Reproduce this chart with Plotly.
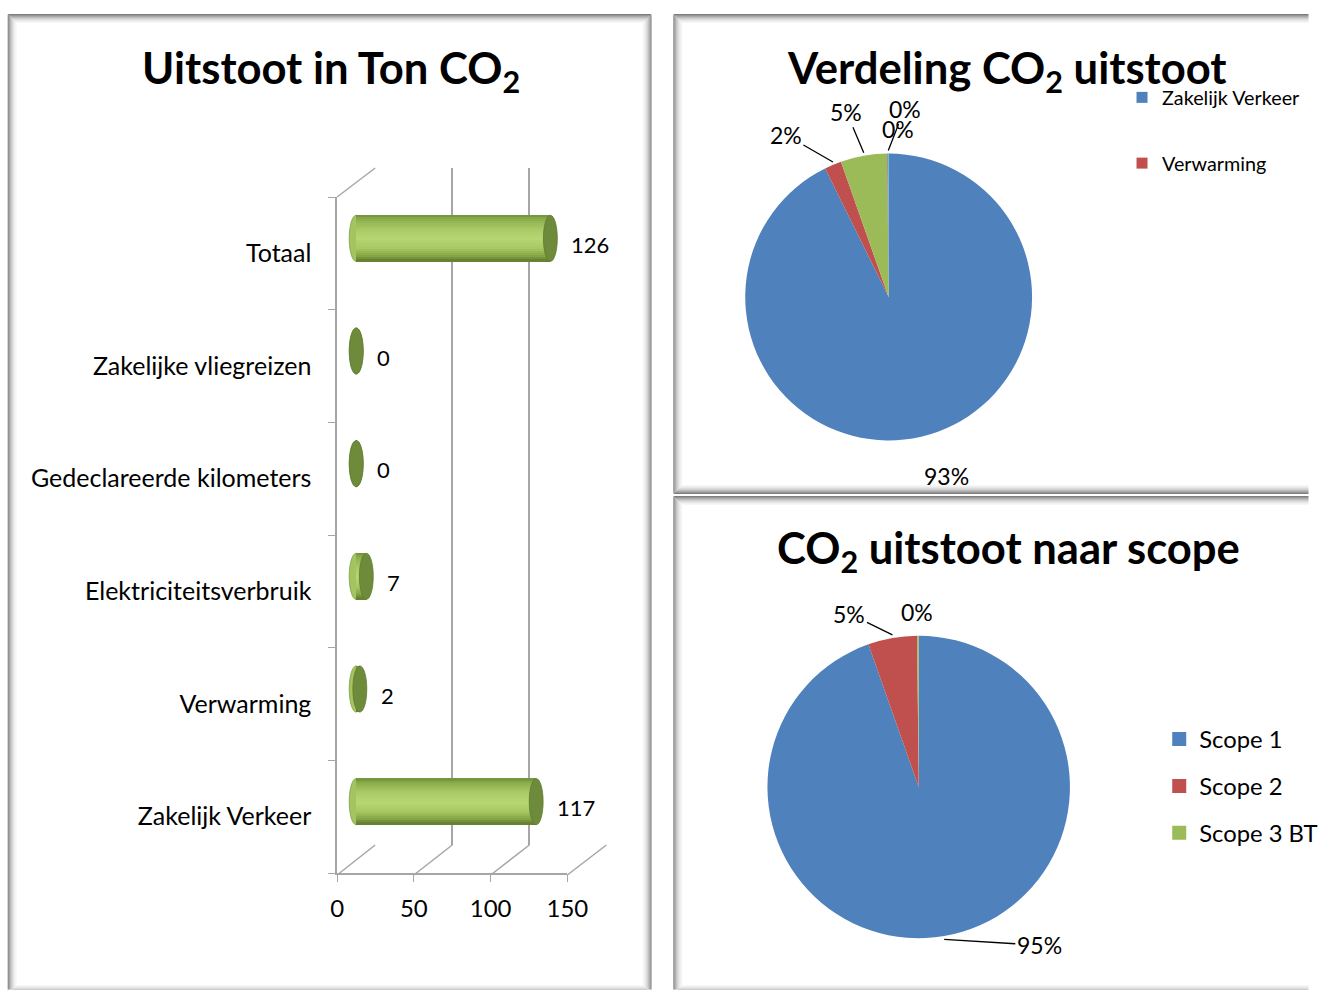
import math
import plotly.graph_objects as go

# ---------------- data ----------------
categories = ["Zakelijk Verkeer", "Verwarming", "Elektriciteitsverbruik",
              "Gedeclareerde kilometers", "Zakelijke vliegreizen", "Totaal"]
values = [116.8, 2.4, 6.6, 0.1, 0.1, 126.0]

pie_labels = categories[:5]
pie_values = values[:5]
pie_colors = ["#4F81BD", "#C0504D", "#9BBB59", "#8064A2", "#4BACC6"]
pie_legend_labels = ["Zakelijk Verkeer", "Verwarming"]

scope_labels = ["Scope 1", "Scope 2", "Scope 3 BT"]
scope_values = [119.2, 6.6, 0.2]
scope_colors = ["#4F81BD", "#C0504D", "#9BBB59"]

x_ticks = [0, 50, 100, 150]

# ---------------- helpers ----------------
W, H = 1330, 990
FONT = "Lato, 'Open Sans', sans-serif"
# horizontal calibration of the photographed page (photo px = SX * css px + OX)
SX, OX = 0.978, 7.2


def cx(p):
    return (p - OX) / SX


def X(p):
    return cx(p) / W


def Y(py):
    return 1 - py / H


def hex2rgb(h):
    h = h.lstrip("#")
    return [int(h[i:i + 2], 16) for i in (0, 2, 4)]


def shade_at(t, stops):
    for (t0, c0), (t1, c1) in zip(stops[:-1], stops[1:]):
        if t0 <= t <= t1:
            f = (t - t0) / (t1 - t0) if t1 > t0 else 0
            a, b = hex2rgb(c0), hex2rgb(c1)
            return "rgb({},{},{})".format(*[round(a[j] + (b[j] - a[j]) * f) for j in range(3)])
    return stops[-1][1]


fig = go.Figure()
GRID = "#a6a6a6"

# back wall (subplot x/y, drawn first so bars sit in front of its grid)
fig.add_trace(go.Scatter(x=[0], y=[0], mode="markers", marker=dict(opacity=0),
                         xaxis="x", yaxis="y", showlegend=False, hoverinfo="skip"))
# front axis carrier (category tick labels)
fig.add_trace(go.Scatter(x=[0] * len(categories), y=categories, mode="markers",
                         marker=dict(opacity=0), xaxis="x2", yaxis="y2",
                         showlegend=False, hoverinfo="skip"))

# ---------------- bar chart (cylinders drawn as shaded stripes) ----------------
BAR_W = 0.41
cyl_stops = [(0.0, "#6f8f36"), (0.08, "#8aab4b"), (0.3, "#a9ca66"), (0.52, "#b5d672"),
             (0.72, "#a6c762"), (0.88, "#86a647"), (1.0, "#5f7b2c")]
n = 22
sw = BAR_W / n
for k in range(n):
    col = shade_at((k + 0.5) / n, cyl_stops)
    top = BAR_W / 2 - k * sw
    fig.add_trace(go.Bar(
        x=values, y=categories, orientation="h", width=sw + 0.003,
        offset=top - sw - 0.0015, marker=dict(color=col, line=dict(width=0)),
        xaxis="x3", yaxis="y3", showlegend=False, hoverinfo="skip"))

shapes = []
annotations = []

cap_half = 4.5
for i, v in enumerate(values):
    shapes.append(dict(type="circle", xref="x3", yref="y3",
                       x0=-cap_half, x1=cap_half, y0=i - BAR_W / 2, y1=i + BAR_W / 2,
                       fillcolor="#a3c45f", line=dict(width=0.8, color="#7e9e45"),
                       layer="below"))
for i, v in enumerate(values):
    shapes.append(dict(type="circle", xref="x3", yref="y3",
                       x0=v - cap_half, x1=v + cap_half, y0=i - BAR_W / 2, y1=i + BAR_W / 2,
                       fillcolor="#6e8b3b", line=dict(width=0.8, color="#5e7a30"),
                       layer="above"))
    annotations.append(dict(x=v, y=categories[i], xref="x3", yref="y3",
                            text=f"{v:.0f}", showarrow=False, xanchor="left",
                            yanchor="middle", xshift=19, yshift=-6,
                            font=dict(size=22, color="#000", family=FONT)))

# 3D floor / side-wall lines
shapes.append(dict(type="line", xref="paper", yref="paper",
                   x0=X(337), y0=Y(197), x1=X(375), y1=Y(168),
                   line=dict(color=GRID, width=1.5), layer="below"))
for t in x_ticks:
    fx = 337 + t * 230 / 150
    bx = 375 + t * 231 / 150
    shapes.append(dict(type="line", xref="paper", yref="paper",
                       x0=X(fx), y0=Y(875), x1=X(bx), y1=Y(845),
                       line=dict(color=GRID, width=1.5), layer="below"))

# panel frames with soft inner shadow (kept inside canvas)
panels = [(8, 14, 651, 994), (673, 14, 1333, 494), (673, 496, 1333, 994)]
shade = ["#7f7f7f", "#959595", "#aaaaaa", "#bdbdbd", "#cecece", "#dcdcdc",
         "#e7e7e7", "#f0f0f0", "#f7f7f7"]
for (x0, y0, x1, y1) in panels:
    x0c, x1c = cx(x0), cx(x1)
    for k, c in enumerate(shade):
        L, R = x0c + k + 0.5, x1c - k - 0.5
        T, B = y0 + k + 0.5, y1 - k - 0.5
        Rc = min(R, W - 0.5)
        segs = [(L, T, Rc, T), (L, T, L, B)]
        if R <= W - 0.5:
            segs.append((R, T, R, B))
        if B <= H - 0.5:
            segs.append((L, B, Rc, B))
        for (a, b, c2, d) in segs:
            shapes.append(dict(type="line", xref="paper", yref="paper",
                               x0=a / W, y0=Y(min(b, H - 0.5)),
                               x1=c2 / W, y1=Y(min(d, H - 0.5)),
                               line=dict(color=c, width=1.2), layer="below"))

# titles
for txt, tx, ty in [("<b>Uitstoot in Ton CO<sub>2</sub></b>", 331, 70),
                    ("<b>Verdeling CO<sub>2</sub> uitstoot</b>", 1006, 70),
                    ("<b>CO<sub>2</sub> uitstoot naar scope</b>", 1008, 550)]:
    annotations.append(dict(text=txt, x=X(tx), y=Y(ty), xref="paper", yref="paper",
                            xanchor="center", yanchor="middle", showarrow=False,
                            font=dict(size=43.6, color="#000", family=FONT)))

# ---------------- pies ----------------
pie1_c, pie1_r = (888, 297), 146.5
pie2_c, pie2_r = (918, 787), 154.5


def pie_domain(c, r):
    xc = cx(c[0])
    return dict(x=[(xc - r) / W, (xc + r) / W], y=[Y(c[1] + r), Y(c[1] - r)])


fig.add_trace(go.Pie(
    labels=pie_labels, values=pie_values, sort=False, direction="clockwise",
    rotation=0, marker=dict(colors=pie_colors, line=dict(width=0)),
    textinfo="none", domain=pie_domain(pie1_c, pie1_r),
    showlegend=False, hoverinfo="label+percent"))

fig.add_trace(go.Pie(
    labels=scope_labels, values=scope_values, sort=False, direction="clockwise",
    rotation=0, marker=dict(colors=scope_colors, line=dict(width=0)),
    textinfo="none", domain=pie_domain(pie2_c, pie2_r),
    showlegend=False, hoverinfo="label+percent"))


def pie_labels_ann(c, r, vals, offsets, size):
    xc, yc = cx(c[0]), c[1]
    tot = sum(vals)
    cum = 0
    out = []
    for v, (ax, ay, arrow) in zip(vals, offsets):
        mid = (cum + v / 2) / tot * 2 * math.pi
        cum += v
        px = xc + r * math.sin(mid)
        py = yc - r * math.cos(mid)
        txt = f"{round(100 * v / tot)}%"
        a = dict(x=px / W, y=Y(py), xref="paper", yref="paper", text=txt,
                 xanchor="center", yanchor="middle",
                 font=dict(size=size, color="#000", family=FONT))
        if arrow:
            a.update(showarrow=True, ax=ax / SX, ay=ay, arrowhead=0, arrowwidth=1.3,
                     arrowcolor="#000", standoff=0, startstandoff=0)
        else:
            a.update(showarrow=False, xshift=ax / SX, yshift=-ay)
        out.append(a)
    return out


annotations += pie_labels_ann(pie1_c, pie1_r, pie_values,
                              [(25, 36, False), (-46, -27, True), (-17, -41, True),
                               (10, -22, False), (16, -42, True)], 23)
annotations += pie_labels_ann(pie2_c, pie2_r, scope_values,
                              [(93, 6, True), (-42, -21, True), (-1, -21, False)], 23)

# legends (proxy entries)
for i, lab in enumerate(pie_legend_labels):
    fig.add_trace(go.Scatter(x=[None], y=[None], mode="markers", name=lab,
                             marker=dict(symbol="square", size=11, color=pie_colors[i]),
                             legend="legend", legendgroup=f"a{i}",
                             xaxis="x", yaxis="y"))
for i, lab in enumerate(scope_labels):
    fig.add_trace(go.Scatter(x=[None], y=[None], mode="markers", name=lab,
                             marker=dict(symbol="square", size=14, color=scope_colors[i]),
                             legend="legend2", legendgroup=f"b{i}",
                             xaxis="x", yaxis="y"))

fig.update_layout(
    width=W, height=H, margin=dict(l=0, r=0, t=0, b=0),
    paper_bgcolor="white", plot_bgcolor="rgba(0,0,0,0)",
    barmode="overlay", bargap=0,
    font=dict(family=FONT, size=22, color="#000"),
    # back wall
    xaxis=dict(domain=[X(375 - 0.5), X(606 + 0.5)], range=[-0.3, 150.3], anchor="y",
               tickvals=x_ticks, showgrid=True, gridcolor=GRID, gridwidth=1.5,
               showticklabels=False, zeroline=False, showline=False, ticks=""),
    yaxis=dict(domain=[Y(845), Y(168)], range=[0, 1], anchor="x", visible=False),
    # front axes
    xaxis2=dict(domain=[X(337), X(567)], range=[0, 150], anchor="y2",
                tickvals=x_ticks, ticks="outside", ticklen=7, tickcolor=GRID,
                showline=True, linecolor=GRID, linewidth=1.5, showgrid=False,
                zeroline=False, ticklabelstandoff=6,
                tickfont=dict(size=24, family=FONT)),
    yaxis2=dict(domain=[Y(873), Y(197)], type="category", anchor="x2",
                categoryorder="array", categoryarray=categories,
                range=[-0.5, 5.5], tickson="boundaries", ticks="outside",
                ticklen=7, tickcolor=GRID, showline=True, linecolor=GRID,
                linewidth=1.5, showgrid=False, ticklabelstandoff=19,
                tickfont=dict(size=25, family=FONT)),
    # bars (mid depth); range starts below 0 so the left cylinder cap is not clipped
    xaxis3=dict(domain=[X(356 - 6 * 231 / 150), X(587)], range=[-6, 150], visible=False,
                anchor="y3"),
    yaxis3=dict(domain=[Y(858), Y(182)], type="category",
                categoryorder="array", categoryarray=categories,
                range=[-0.5, 5.5], visible=False, anchor="x3"),
    legend=dict(x=1139 / W, y=Y(78), xanchor="left", yanchor="top",
                font=dict(size=19.8, family=FONT), tracegroupgap=37,
                bgcolor="rgba(0,0,0,0)", itemclick=False),
    legend2=dict(x=1177 / W, y=Y(717), xanchor="left", yanchor="top",
                 font=dict(size=23.8, family=FONT), tracegroupgap=13,
                 bgcolor="rgba(0,0,0,0)", itemclick=False),
    shapes=shapes, annotations=annotations,
)

fig.write_html(
    "out.html", config={"displayModeBar": False},
    post_script=("document.documentElement.style.margin='0px';"
                 "document.body.style.margin='0px';"
                 "document.body.style.padding='0px';"))
